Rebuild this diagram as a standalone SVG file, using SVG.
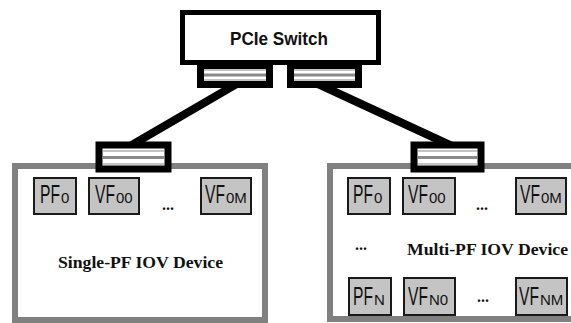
<svg xmlns="http://www.w3.org/2000/svg" width="571" height="323" viewBox="0 0 571 323">
<style>
.dev{fill:#fff;stroke:#808080;stroke-width:6}
.sw{fill:#fff;stroke:#000;stroke-width:5}
.port{fill:#fff;stroke:#000;stroke-width:7}
.s1{stroke:#c4c4c4;stroke-width:2}
.s2{stroke:#8a8a8a;stroke-width:3}
.fn{fill:#c4c4c4;stroke:#1a1a1a;stroke-width:2}
.lbl{font-family:"Liberation Sans",Arial,sans-serif;font-size:25px;fill:#111}
.sub{font-family:"Liberation Sans",Arial,sans-serif;font-size:15px;fill:#111}
.ser{font-family:"Liberation Serif","Times New Roman",serif;font-weight:bold;font-size:17.5px;fill:#111}
.dots{font-family:"Liberation Serif","Times New Roman",serif;font-weight:bold;font-size:16px;fill:#111;text-anchor:middle}
.link{stroke:#000;stroke-width:8;fill:none}
</style>
<g id="single-pf-device">
<rect class="dev" x="15" y="166" width="250" height="154"/>
<text class="ser" x="58" y="268" textLength="165" lengthAdjust="spacingAndGlyphs">Single-PF IOV Device</text>
<rect class="fn" x="34" y="178" width="42" height="36"/>
<text class="lbl" transform="translate(40 203) scale(0.626 1)">PF</text>
<text class="sub" x="61" y="203">0</text>
<rect class="fn" x="89" y="178" width="50" height="36"/>
<text class="lbl" transform="translate(95 203) scale(0.626 1)">VF</text>
<text class="sub" x="116" y="203">00</text>
<text class="dots" x="168" y="210">...</text>
<rect class="fn" x="201" y="178" width="50" height="36"/>
<text class="lbl" transform="translate(205 203) scale(0.626 1)">VF</text>
<text class="sub" x="226" y="203">0M</text>
</g>
<g id="multi-pf-device">
<rect class="dev" x="330" y="166" width="260" height="153"/>
<rect class="fn" x="348" y="178" width="42" height="36"/>
<text class="lbl" transform="translate(353 203) scale(0.626 1)">PF</text>
<text class="sub" x="374" y="203">0</text>
<rect class="fn" x="403" y="178" width="52" height="36"/>
<text class="lbl" transform="translate(408 203) scale(0.626 1)">VF</text>
<text class="sub" x="429" y="203">00</text>
<text class="dots" x="482" y="210">...</text>
<rect class="fn" x="516" y="178" width="50" height="36"/>
<text class="lbl" transform="translate(520 203) scale(0.626 1)">VF</text>
<text class="sub" x="541" y="203">0M</text>
<text class="dots" x="361" y="250">...</text>
<text class="ser" x="407" y="255" textLength="161" lengthAdjust="spacingAndGlyphs">Multi-PF IOV Device</text>
<rect class="fn" x="349" y="278" width="42" height="37"/>
<text class="lbl" transform="translate(353 305) scale(0.626 1)">PF</text>
<text class="sub" x="374" y="305">N</text>
<rect class="fn" x="404" y="278" width="51" height="37"/>
<text class="lbl" transform="translate(408 305) scale(0.626 1)">VF</text>
<text class="sub" x="429" y="305">N0</text>
<text class="dots" x="483" y="302">...</text>
<rect class="fn" x="516" y="278" width="51" height="37"/>
<text class="lbl" transform="translate(519 305) scale(0.626 1)">VF</text>
<text class="sub" x="540" y="305">NM</text>
</g>
<g id="connectors">
<line class="link" x1="240" y1="82" x2="130" y2="146"/>
<line class="link" x1="318" y1="84" x2="452" y2="146"/>
</g>
<g id="pcie-switch">
<rect class="port" x="200.5" y="65.5" width="69" height="19"/>
<line class="s1" x1="204" y1="70" x2="266" y2="70"/>
<line class="s2" x1="204" y1="75" x2="266" y2="75"/>
<line class="s1" x1="204" y1="80" x2="266" y2="80"/>
<rect class="port" x="290.5" y="65.5" width="68" height="19"/>
<line class="s1" x1="294" y1="70" x2="355" y2="70"/>
<line class="s2" x1="294" y1="75" x2="355" y2="75"/>
<line class="s1" x1="294" y1="80" x2="355" y2="80"/>
<rect class="sw" x="182.5" y="12.5" width="196" height="50"/>
<text x="279" y="45" text-anchor="middle" font-family="'Liberation Sans',Arial,sans-serif" font-weight="bold" font-size="19" fill="#111" textLength="98" lengthAdjust="spacingAndGlyphs">PCIe Switch</text>
</g>
<g id="single-pf-port">
<rect class="port" x="99" y="145" width="69" height="24"/>
<line class="s1" x1="103" y1="151" x2="164" y2="151"/>
<line class="s2" x1="103" y1="157.5" x2="164" y2="157.5"/>
<line class="s1" x1="103" y1="164" x2="164" y2="164"/>
</g>
<g id="multi-pf-port">
<rect class="port" x="414" y="145" width="67" height="24"/>
<line class="s1" x1="418" y1="151" x2="477" y2="151"/>
<line class="s2" x1="418" y1="157.5" x2="477" y2="157.5"/>
<line class="s1" x1="418" y1="164" x2="477" y2="164"/>
</g>
</svg>
